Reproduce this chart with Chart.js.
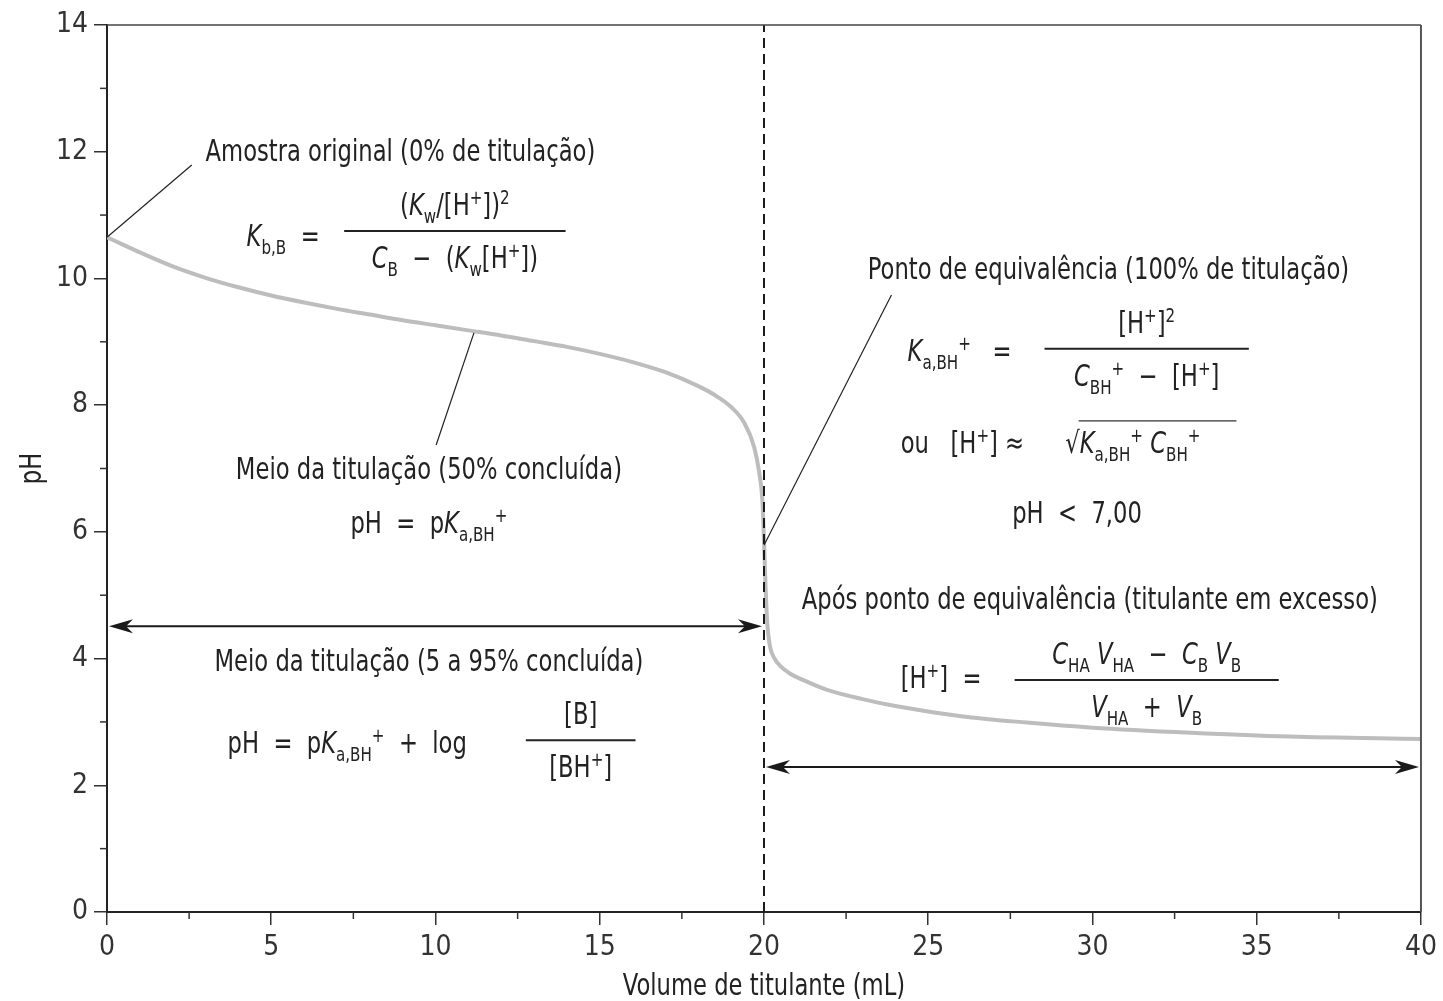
<!DOCTYPE html>
<html>
<head>
<meta charset="utf-8">
<script src="https://cdn.jsdelivr.net/npm/chart.js@4.4.0/dist/chart.umd.min.js"></script>
<style>
  body { margin: 0; background: #fff; }
  #caixa { width: 1443px; height: 1001px; }
</style>
</head>
<body>
<div id="caixa"><canvas id="grafico"></canvas></div>
<script>
const FONTE = '"Liberation Sans Narrow", "DejaVu Sans Condensed", Roboto, sans-serif';
const COR_TEXTO = '#222';
const APERTO = 0.84; // compressão horizontal para imitar a fonte condensada

// curva de titulação: volume (mL) e pH
const volumes = [0, 0.5, 1, 2, 3, 4, 5, 6, 7, 8, 9, 10, 11, 12, 13, 14, 15, 16, 17, 18, 18.5, 19, 19.4, 19.7, 19.85, 19.95,
                 20.0, 20.05, 20.1, 20.15, 20.2, 20.3, 20.5, 20.8, 21.2, 21.9, 23, 24, 26, 28, 30, 33, 36, 40];
const valoresPH = [10.65, 10.53, 10.41, 10.19, 10.01, 9.86, 9.73, 9.62, 9.52, 9.43, 9.34, 9.26, 9.18, 9.10, 9.01, 8.92, 8.81, 8.68, 8.52, 8.30, 8.16, 7.97, 7.72, 7.34, 6.95, 6.50,
                   5.87, 5.10, 4.55, 4.30, 4.15, 4.02, 3.88, 3.76, 3.66, 3.51, 3.36, 3.25, 3.09, 2.99, 2.91, 2.83, 2.77, 2.73];

const volumeEquivalencia = 20;
const ticksMenoresX = [2.5, 7.5, 12.5, 17.5, 22.5, 27.5, 32.5, 37.5];
const ticksMenoresY = [1, 3, 5, 7, 9, 11, 13];
const tituloX = 'Volume de titulante (mL)';
const tituloY = 'pH';

// setas horizontais (intervalos de volume e pH onde ficam)
const setas = [
  { de: 0, ate: 20, ph: 4.51 },
  { de: 20, ate: 40, ph: 2.29 }
];

// linhas de chamada (volume, pH) -> (volume, pH)
const chamadas = [
  [0, 10.65, 2.58, 11.79],
  [11.17, 9.14, 10.02, 7.37],
  [20, 5.79, 23.88, 9.74]
];

// textos: partes [texto, estilo]  '' normal, 'i' itálico, 'b' subscrito, 'p' sobrescrito
const textos = [
  { x: 3.0, y: 12.03, a: 'left', p: [['Amostra original (0% de titulação)', '']] },
  { x: 4.25, y: 10.68, a: 'left', p: [['K', 'i'], ['b,B', 'b'], ['  =', '']] },
  { x: 9.80, y: 7.01, a: 'center', p: [['Meio da titulação (50% concluída)', '']] },
  { x: 9.80, y: 6.16, a: 'center', p: [['pH  =  p', ''], ['K', 'i'], ['a,BH', 'b'], ['+', 'p']] },
  { x: 9.80, y: 3.98, a: 'center', p: [['Meio da titulação (5 a 95% concluída)', '']] },
  { x: 3.67, y: 2.68, a: 'left', p: [['pH  =  p', ''], ['K', 'i'], ['a,BH', 'b'], ['+', 'p'], ['  +  log', '']] },
  { x: 23.16, y: 10.16, a: 'left', p: [['Ponto de equivalência (100% de titulação)', '']] },
  { x: 24.37, y: 8.87, a: 'left', p: [['K', 'i'], ['a,BH', 'b'], ['+', 'p'], ['   =', '']] },
  { x: 24.16, y: 7.42, a: 'left', p: [['ou   [H', ''], ['+', 'p'], ['] ≈', '']] },
  { x: 29.53, y: 6.31, a: 'center', p: [['pH  <  7,00', '']] },
  { x: 21.15, y: 4.96, a: 'left', p: [['Após ponto de equivalência (titulante em excesso)', '']] },
  { x: 24.16, y: 3.71, a: 'left', p: [['[H', ''], ['+', 'p'], [']  =', '']] }
];

const fracoes = [
  { x: 10.59, y: 10.75, m: 3.37,
    num: [['(', ''], ['K', 'i'], ['w', 'b'], ['/[H', ''], ['+', 'p'], ['])', ''], ['2', 'p']],
    den: [['C', 'i'], ['B', 'b'], ['  −  (', ''], ['K', 'i'], ['w', 'b'], ['[H', ''], ['+', 'p'], ['])', '']] },
  { x: 14.42, y: 2.71, m: 1.67,
    num: [['[B]', '']],
    den: [['[BH', ''], ['+', 'p'], [']', '']] },
  { x: 31.65, y: 8.89, m: 3.11,
    num: [['[H', ''], ['+', 'p'], [']', ''], ['2', 'p']],
    den: [['C', 'i'], ['BH', 'b'], ['+', 'p'], ['  −  [H', ''], ['+', 'p'], [']', '']] },
  { x: 31.65, y: 3.66, m: 4.02,
    num: [['C', 'i'], ['HA', 'b'], [' ', ''], ['V', 'i'], ['HA', 'b'], ['  −  ', ''], ['C', 'i'], ['B', 'b'], [' ', ''], ['V', 'i'], ['B', 'b']],
    den: [['V', 'i'], ['HA', 'b'], ['  +  ', ''], ['V', 'i'], ['B', 'b']] }
];

// raiz quadrada do ponto de equivalência
const raiz = { x: 29.17, y: 7.42, p: [['K', 'i'], ['a,BH', 'b'], ['+', 'p'], [' ', ''], ['C', 'i'], ['BH', 'b'], ['+', 'p']] };

function fonteDe(estilo) {
  if (estilo === 'i') return 'italic 30px ' + FONTE;
  if (estilo === 'b' || estilo === 'p') return '20px ' + FONTE;
  return '30px ' + FONTE;
}

function larguraRica(ctx, partes) {
  let w = 0;
  partes.forEach(([t, e]) => { ctx.font = fonteDe(e); w += ctx.measureText(t).width; });
  return w * APERTO;
}

// desenha texto com itálico, subscrito e sobrescrito; y = meio da linha
function textoRico(ctx, partes, x, y, alinhar) {
  const w = larguraRica(ctx, partes);
  const x0 = alinhar === 'center' ? x - w / 2 : x;
  const base = y + 11;
  ctx.save();
  ctx.translate(x0, 0);
  ctx.scale(APERTO, 1);
  ctx.textAlign = 'left';
  ctx.textBaseline = 'alphabetic';
  ctx.fillStyle = COR_TEXTO;
  let cx = 0;
  partes.forEach(([t, e]) => {
    ctx.font = fonteDe(e);
    let dy = 0;
    if (e === 'b') dy = 8;
    if (e === 'p') dy = -11;
    ctx.fillText(t, cx, base + dy);
    cx += ctx.measureText(t).width;
  });
  ctx.restore();
  return w;
}

function ponta(ctx, x, y, dir) {
  ctx.beginPath();
  ctx.moveTo(x, y);
  ctx.lineTo(x - dir * 24, y - 7);
  ctx.lineTo(x - dir * 17, y);
  ctx.lineTo(x - dir * 24, y + 7);
  ctx.closePath();
  ctx.fill();
}

const anotacoes = {
  id: 'anotacoes',
  afterDraw(chart) {
    const ctx = chart.ctx;
    const sx = chart.scales.x, sy = chart.scales.y;
    const X = v => sx.getPixelForValue(v);
    const Y = v => sy.getPixelForValue(v);
    const area = chart.chartArea;
    ctx.save();

    // moldura superior e direita
    ctx.strokeStyle = '#444';
    ctx.lineWidth = 1.5;
    ctx.beginPath();
    ctx.moveTo(area.left, area.top);
    ctx.lineTo(area.right, area.top);
    ctx.stroke();
    ctx.strokeStyle = '#555';
    ctx.lineWidth = 2;
    ctx.beginPath();
    ctx.moveTo(area.right, area.top);
    ctx.lineTo(area.right, area.bottom);
    ctx.stroke();

    // ticks menores
    ctx.strokeStyle = '#333';
    ctx.lineWidth = 1.5;
    ticksMenoresX.forEach(v => {
      ctx.beginPath();
      ctx.moveTo(X(v), area.bottom);
      ctx.lineTo(X(v), area.bottom + 7);
      ctx.stroke();
    });
    ticksMenoresY.forEach(v => {
      ctx.beginPath();
      ctx.moveTo(area.left, Y(v));
      ctx.lineTo(area.left - 7, Y(v));
      ctx.stroke();
    });

    // títulos dos eixos
    textoRico(ctx, [[tituloX, '']], (area.left + area.right) / 2, 984, 'center');
    ctx.save();
    ctx.translate(30, (area.top + area.bottom) / 2);
    ctx.rotate(-Math.PI / 2);
    textoRico(ctx, [[tituloY, '']], 0, 0, 'center');
    ctx.restore();

    // linhas de chamada
    ctx.strokeStyle = '#222';
    ctx.lineWidth = 1.2;
    chamadas.forEach(([x1, y1, x2, y2]) => {
      ctx.beginPath();
      ctx.moveTo(X(x1), Y(y1));
      ctx.lineTo(X(x2), Y(y2));
      ctx.stroke();
    });

    // setas
    ctx.strokeStyle = '#1a1a1a';
    ctx.fillStyle = '#1a1a1a';
    ctx.lineWidth = 2;
    setas.forEach(s => {
      const x1 = X(s.de) + 2, x2 = X(s.ate) - 2, y = Y(s.ph);
      ctx.beginPath();
      ctx.moveTo(x1 + 10, y);
      ctx.lineTo(x2 - 10, y);
      ctx.stroke();
      ponta(ctx, x1, y, -1);
      ponta(ctx, x2, y, 1);
    });

    // textos
    textos.forEach(t => textoRico(ctx, t.p, X(t.x), Y(t.y), t.a));

    // frações
    fracoes.forEach(f => {
      const cx = X(f.x), cy = Y(f.y);
      ctx.strokeStyle = '#222';
      ctx.lineWidth = 2;
      ctx.beginPath();
      ctx.moveTo(X(f.x - f.m), cy);
      ctx.lineTo(X(f.x + f.m), cy);
      ctx.stroke();
      textoRico(ctx, f.num, cx, cy - 27, 'center');
      textoRico(ctx, f.den, cx, cy + 26, 'center');
    });

    // raiz quadrada
    const rx = X(raiz.x), ry = Y(raiz.y);
    const wr = textoRico(ctx, [['√', '']], rx, ry, 'left');
    const wt = textoRico(ctx, raiz.p, rx + wr, ry, 'left');
    ctx.strokeStyle = '#333';
    ctx.lineWidth = 1.2;
    ctx.beginPath();
    ctx.moveTo(rx + wr - 1, ry - 21);
    ctx.lineTo(rx + wr + wt + 36, ry - 21);
    ctx.stroke();

    ctx.restore();
  }
};

const ctx = document.getElementById('grafico').getContext('2d');
new Chart(ctx, {
  type: 'line',
  data: {
    datasets: [
      {
        data: volumes.map((v, i) => ({ x: v, y: valoresPH[i] })),
        borderColor: '#bdbdbd',
        borderWidth: 4,
        pointRadius: 0,
        cubicInterpolationMode: 'monotone',
        fill: false,
        order: 2
      },
      {
        data: [{ x: volumeEquivalencia, y: 0 }, { x: volumeEquivalencia, y: 14 }],
        borderColor: '#1a1a1a',
        borderWidth: 2,
        borderDash: [10, 6],
        pointRadius: 0,
        fill: false,
        order: 1
      }
    ]
  },
  options: {
    responsive: true,
    maintainAspectRatio: false,
    animation: false,
    layout: { padding: { top: 25, right: 18, left: 0, bottom: 0 } },
    plugins: { legend: { display: false }, tooltip: { enabled: false } },
    scales: {
      x: {
        type: 'linear',
        min: 0,
        max: 40,
        afterFit: s => { s.height = 89; },
        ticks: { stepSize: 5, color: '#333', font: { family: FONTE, size: 28 }, padding: 6, maxRotation: 0 },
        grid: { drawOnChartArea: false, tickLength: 13, color: '#333', lineWidth: 1.5 },
        border: { color: '#222', width: 2 }
      },
      y: {
        min: 0,
        max: 14,
        afterFit: s => { s.width = 107; },
        ticks: { stepSize: 2, color: '#333', font: { family: FONTE, size: 28 }, padding: 6 },
        grid: { drawOnChartArea: false, tickLength: 13, color: '#333', lineWidth: 1.5 },
        border: { color: '#222', width: 2 }
      }
    }
  },
  plugins: [anotacoes]
});
</script>
</body>
</html>
